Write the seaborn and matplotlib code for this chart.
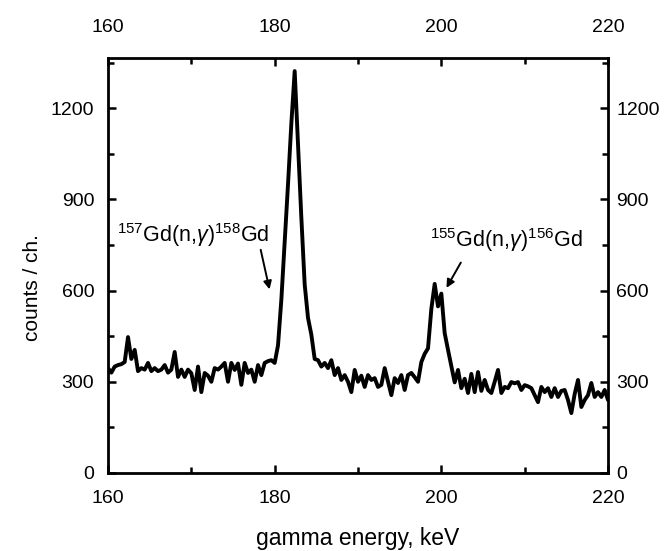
import numpy as np
import pandas as pd
import matplotlib
matplotlib.use("Agg")
import matplotlib.pyplot as plt
import seaborn as sns
from matplotlib.ticker import MultipleLocator
from matplotlib.transforms import ScaledTranslation

# gamma energy (keV), channel width 0.4 keV
energy = [round(160 + 0.4 * i, 1) for i in range(151)]
counts = [
    345, 330, 350, 355, 358, 365, 447, 375, 405, 335,
    345, 340, 362, 335, 345, 335, 340, 355, 330, 340,
    398, 316, 340, 316, 340, 328, 273, 350, 266, 329,
    320, 300, 345, 340, 350, 362, 300, 362, 339, 360,
    290, 362, 329, 340, 300, 355, 322, 362, 368, 371,
    362, 420, 570, 760, 950, 1150, 1322, 1080, 840, 620,
    510, 455, 375, 371, 350, 362, 345, 371, 322, 345,
    306, 322, 300, 266, 339, 300, 320, 283, 322, 306,
    312, 283, 290, 345, 300, 256, 312, 296, 322, 273,
    322, 329, 315, 300, 365, 392, 410, 540, 622, 548,
    590, 460, 405, 352, 298, 339, 279, 310, 263, 326,
    266, 332, 270, 306, 273, 263, 300, 339, 263, 283,
    279, 299, 295, 299, 273, 289, 285, 279, 256, 233,
    283, 266, 279, 250, 279, 250, 270, 273, 240, 197,
    260, 306, 217, 240, 256, 296, 250, 266, 250, 273,
    240,
]

label1 = r"$^{157}$Gd(n,$\gamma$)$^{158}$Gd"
label2 = r"$^{155}$Gd(n,$\gamma$)$^{156}$Gd"

df = pd.DataFrame({"energy": energy, "counts": counts})

sns.set_style("ticks")
plt.rcParams["font.family"] = ["Liberation Sans", "DejaVu Sans"]
plt.rcParams["mathtext.fontset"] = "custom"
plt.rcParams["mathtext.rm"] = "Liberation Sans"
plt.rcParams["mathtext.it"] = "Liberation Sans:italic"
plt.rcParams["text.color"] = "black"
plt.rcParams["axes.labelcolor"] = "black"

fig = plt.figure(figsize=(6.68, 5.51), dpi=100)
ax = fig.add_axes([0.1617, 0.1416, 0.7485, 0.7531])

sns.lineplot(data=df, x="energy", y="counts", ax=ax, color="black",
             linewidth=2.8, estimator=None)

ax.set_xlim(160, 220)
ax.set_ylim(0, 1365)
ax.xaxis.set_major_locator(MultipleLocator(20))
ax.xaxis.set_minor_locator(MultipleLocator(10))
ax.yaxis.set_major_locator(MultipleLocator(300))
ax.yaxis.set_minor_locator(MultipleLocator(150))

ax.tick_params(which="both", direction="in", top=True, right=True,
               labeltop=True, labelright=True, width=1.8, labelsize=14,
               colors="black")
ax.tick_params(which="major", length=6)
ax.tick_params(which="minor", length=4)
ax.tick_params(axis="x", which="major", pad=12)
ax.tick_params(axis="y", which="major", pad=10)

for s in ax.spines.values():
    s.set_linewidth(2)
    s.set_color("black")

ax.set_xlabel("gamma energy, keV", fontsize=16.5, va="center")
ax.xaxis.set_label_coords(0.5, -0.157)
ax.set_ylabel("counts / ch.", fontsize=15, va="center")
ax.yaxis.set_label_coords(-0.152, 0.446)

ax.text(170.2, 782, label1, fontsize=15.5, ha="center", va="center")
ax.annotate("", xy=(179.45, 595), xytext=(178.25, 743),
            arrowprops=dict(arrowstyle="-|>", color="black", lw=1.4,
                            mutation_scale=12))
ax.text(207.8, 766, label2, fontsize=15.5, ha="center", va="center")
ax.annotate("", xy=(200.45, 601), xytext=(202.5, 700),
            arrowprops=dict(arrowstyle="-|>", color="black", lw=1.4,
                            mutation_scale=12))

fig.canvas.draw()
# top labels sit further from the frame, right labels closer
for t in ax.xaxis.get_major_ticks():
    t.label2.set_transform(t.label2.get_transform() +
                           ScaledTranslation(0, 4 / 72, fig.dpi_scale_trans))
for t in ax.yaxis.get_major_ticks():
    t.label2.set_transform(t.label2.get_transform() +
                           ScaledTranslation(-4 / 72, 0, fig.dpi_scale_trans))

fig.savefig("out.png", dpi=100)
